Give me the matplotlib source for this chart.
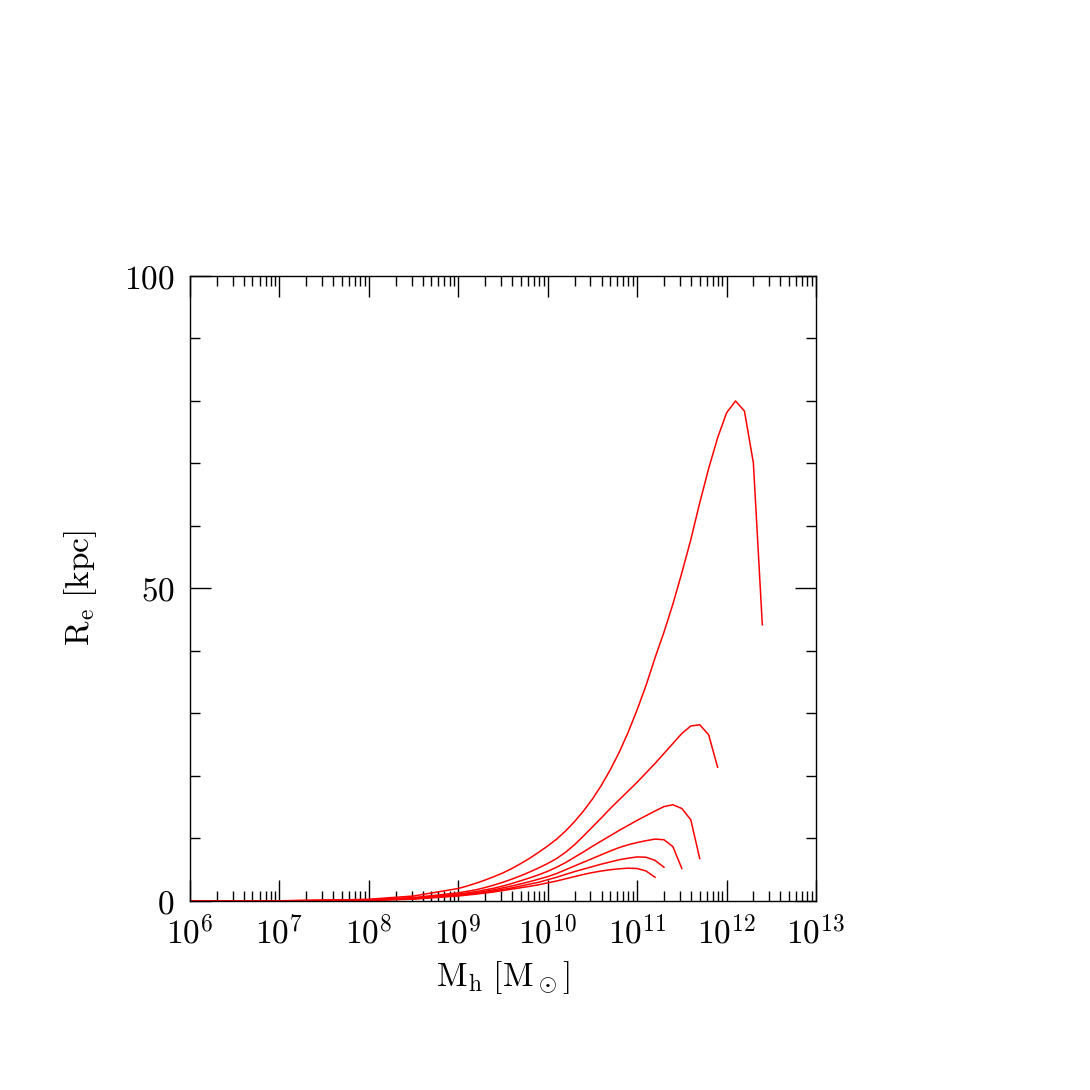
import matplotlib
matplotlib.use("Agg")
import matplotlib.pyplot as plt
import numpy as np
from matplotlib.ticker import FixedLocator, MultipleLocator, FuncFormatter, LogLocator, NullFormatter

plt.rcParams['mathtext.fontset'] = 'cm'
plt.rcParams['font.family'] = ['DejaVu Serif']

# log10(M_h / M_sun) and R_e [kpc], one pair per curve
logm1 = [6.0, 6.5, 7.0, 7.5, 8.0, 8.5, 9.0, 9.1, 9.2, 9.3, 9.4, 9.5, 9.6, 9.7, 9.8, 9.9,
         10.0, 10.1, 10.2, 10.3, 10.4, 10.5, 10.6, 10.7, 10.8, 10.9,
         11.0, 11.1, 11.2, 11.3, 11.4, 11.5, 11.6, 11.7, 11.8, 11.9, 12.0, 12.1, 12.2, 12.3, 12.4]
re1 = [0.0, 0.01, 0.04, 0.1, 0.28, 0.8, 2.0, 2.4, 2.85, 3.35, 3.9, 4.5, 5.2, 6.0, 6.85, 7.8,
       8.8, 9.9, 11.2, 12.7, 14.4, 16.3, 18.5, 21.0, 23.8, 27.0,
       30.6, 34.5, 38.9, 43.0, 47.5, 52.5, 57.8, 63.7, 69.2, 74.1, 78.1, 80.0, 78.4, 70.1, 44.2]

logm2 = [6.0, 7.0, 8.0, 8.5, 9.0, 9.1, 9.2, 9.3, 9.4, 9.5, 9.6, 9.7, 9.8, 9.9,
         10.0, 10.1, 10.2, 10.3, 10.4, 10.5, 10.6, 10.7, 10.8, 10.9,
         11.0, 11.1, 11.2, 11.3, 11.4, 11.5, 11.6, 11.7, 11.8, 11.9]
re2 = [0.0, 0.03, 0.2, 0.55, 1.3, 1.55, 1.8, 2.15, 2.55, 3.0, 3.5, 4.05, 4.65, 5.3,
       6.0, 6.8, 7.8, 9.0, 10.4, 11.85, 13.3, 14.8, 16.2, 17.6,
       19.0, 20.5, 22.0, 23.6, 25.2, 26.8, 28.0, 28.2, 26.6, 21.4]

logm3 = [6.0, 7.0, 8.0, 8.5, 9.0, 9.2, 9.4, 9.5, 9.6, 9.7, 9.8, 9.9,
         10.0, 10.1, 10.2, 10.3, 10.4, 10.5, 10.6, 10.7, 10.8, 10.9,
         11.0, 11.1, 11.2, 11.3, 11.4, 11.5, 11.6, 11.7]
re3 = [0.0, 0.02, 0.16, 0.45, 1.1, 1.5, 2.05, 2.4, 2.8, 3.25, 3.7, 4.2,
       4.75, 5.4, 6.15, 7.0, 7.85, 8.75, 9.6, 10.45, 11.3, 12.1,
       12.9, 13.65, 14.4, 15.1, 15.4, 14.8, 13.0, 6.8]

logm4 = [6.0, 7.0, 8.0, 8.5, 9.0, 9.2, 9.4, 9.6, 9.8, 9.9,
         10.0, 10.1, 10.2, 10.3, 10.4, 10.5, 10.6, 10.7, 10.8, 10.9,
         11.0, 11.1, 11.2, 11.3, 11.4, 11.5]
re4 = [0.0, 0.02, 0.13, 0.4, 1.0, 1.3, 1.8, 2.4, 3.1, 3.5,
       3.9, 4.4, 5.0, 5.6, 6.2, 6.8, 7.4, 8.0, 8.55, 9.0,
       9.35, 9.65, 9.9, 9.8, 8.7, 5.2]

logm5 = [6.0, 7.0, 8.0, 8.5, 9.0, 9.2, 9.4, 9.6, 9.8, 9.9,
         10.0, 10.1, 10.2, 10.3, 10.4, 10.5, 10.6, 10.7, 10.8, 10.9,
         11.0, 11.1, 11.2, 11.3]
re5 = [0.0, 0.02, 0.11, 0.35, 0.9, 1.2, 1.6, 2.1, 2.7, 3.0,
       3.4, 3.8, 4.25, 4.7, 5.1, 5.5, 5.9, 6.25, 6.6, 6.85,
       7.05, 7.0, 6.5, 5.4]

logm6 = [6.0, 7.0, 8.0, 8.5, 9.0, 9.2, 9.4, 9.6, 9.8, 9.9,
         10.0, 10.1, 10.2, 10.3, 10.4, 10.5, 10.6, 10.7, 10.8, 10.9,
         11.0, 11.1, 11.2]
re6 = [0.0, 0.01, 0.09, 0.3, 0.8, 1.1, 1.45, 1.9, 2.35, 2.6,
       2.9, 3.2, 3.55, 3.9, 4.25, 4.55, 4.8, 5.0, 5.15, 5.25,
       5.2, 4.8, 3.8]

xdecades = [6, 7, 8, 9, 10, 11, 12, 13]
yticks = [0, 50, 100]

fig = plt.figure(figsize=(10.9, 10.9), dpi=100)
ax = fig.add_axes([0.1743, 0.1734, 0.5743, 0.5734])

for lm, r in [(logm1, re1), (logm2, re2), (logm3, re3), (logm4, re4), (logm5, re5), (logm6, re6)]:
    ax.plot(10.0 ** np.array(lm), r, color='red', lw=1.1)

ax.set_xscale('log')
ax.set_xlim(1e6, 1e13)
ax.set_ylim(0, 100)

ax.xaxis.set_major_locator(FixedLocator([10.0 ** d for d in xdecades]))
ax.xaxis.set_minor_locator(LogLocator(base=10, subs=np.arange(2, 10), numticks=20))
ax.xaxis.set_minor_formatter(NullFormatter())
ax.xaxis.set_major_formatter(FuncFormatter(lambda v, p: r'$10^{%d}$' % round(np.log10(v))))

ax.yaxis.set_major_locator(FixedLocator(yticks))
ax.yaxis.set_minor_locator(MultipleLocator(10))
ax.yaxis.set_major_formatter(FuncFormatter(lambda v, p: r'$%d$' % v))

ax.tick_params(which='both', direction='in', top=True, right=True, width=1.0, color='black')
ax.tick_params(which='major', length=15, labelsize=24, pad=11)
ax.tick_params(which='minor', length=7.5)
for s in ax.spines.values():
    s.set_linewidth(1.0)

ax.set_xlabel(r'$\mathrm{M_h\ [M_\odot]}$', fontsize=24, labelpad=6)
ax.set_ylabel(r'$\mathrm{R_e\ [kpc]}$', fontsize=24, labelpad=18)

fig.savefig('out.png', dpi=100)
